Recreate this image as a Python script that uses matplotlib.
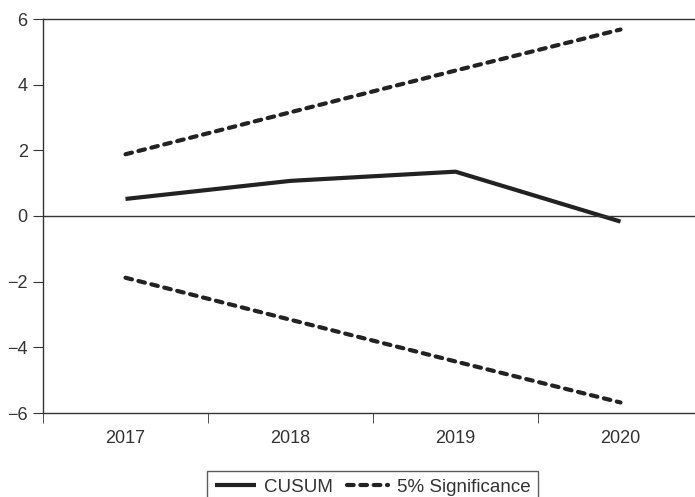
import matplotlib.pyplot as plt

plt.rcParams['font.family'] = ['Liberation Sans', 'DejaVu Sans']

years = ['2017', '2018', '2019', '2020']
cusum = [0.52, 1.07, 1.35, -0.17]
upper = [1.88, 3.16, 4.43, 5.68]
lower = [-1.88, -3.16, -4.43, -5.68]

fig = plt.figure(figsize=(6.95, 4.97), dpi=100)
ax = fig.add_axes([43 / 695, 1 - 413 / 497, 660 / 695, 394 / 497])

x = list(range(len(years)))
dark = '#222222'
dash = (0, (1.6, 1.6))
ax.plot(x, cusum, color=dark, lw=3.0, solid_capstyle='butt', label='CUSUM')
ax.plot(x, upper, color=dark, lw=3.0, ls=dash, dash_capstyle='round',
        label='5% Significance')
ax.plot(x, lower, color=dark, lw=3.0, ls=dash, dash_capstyle='round')
ax.axhline(0, color='#333333', lw=1.0)

ax.set_xlim(-0.5, 3.5)
ax.set_ylim(-6, 6)
ax.set_yticks([-6, -4, -2, 0, 2, 4, 6])
ax.set_xticks(x)
ax.set_xticklabels(years)
ax.set_xticks([-0.5, 0.5, 1.5, 2.5, 3.5], minor=True)
ax.tick_params(axis='x', which='major', length=0, pad=12, labelsize=13, labelcolor='#333333')
ax.tick_params(axis='x', which='minor', length=7, direction='out', color='#333333')
ax.tick_params(axis='y', length=7, direction='out', color='#333333', labelsize=13,
               labelcolor='#333333', pad=4)

for s in ['left', 'top', 'bottom']:
    ax.spines[s].set_color('#333333')
    ax.spines[s].set_linewidth(1.0)
ax.spines['right'].set_visible(False)

leg = fig.legend(loc='upper center', bbox_to_anchor=(372.5 / 695, 1 - 471 / 497), ncol=2,
                 frameon=True, fancybox=False, edgecolor='#333333', fontsize=13.5,
                 handlelength=2.2, columnspacing=0.75, handletextpad=0.45,
                 borderpad=0.4, borderaxespad=0)
leg.get_frame().set_linewidth(1.0)
for t in leg.get_texts():
    t.set_color('#333333')

fig.savefig('out.png', dpi=100)
